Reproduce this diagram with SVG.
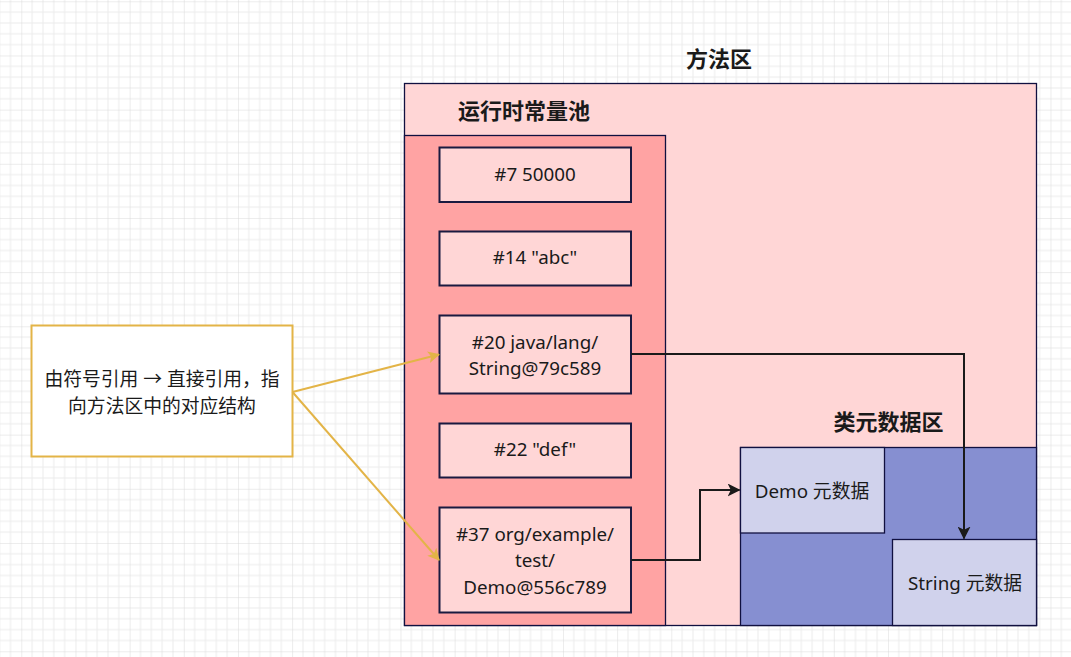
<svg xmlns="http://www.w3.org/2000/svg" width="1071" height="657" viewBox="0 0 1071 657">
<style>
.t{font-family:"Noto Sans","Noto Sans CJK SC",sans-serif;font-size:18.8px;fill:#1a1a1a;text-anchor:middle;dominant-baseline:central}
.h{font-family:"Noto Sans CJK SC","Noto Sans",sans-serif;font-size:22px;font-weight:bold;fill:#1a1a1a;text-anchor:middle;dominant-baseline:central}
.entry{fill:#ffd6d6;stroke:#1a1a40;stroke-width:2}
.meta{fill:#d0d2ec;stroke:#101040;stroke-width:1.3}
.y{stroke:#e3b447;stroke-width:2;fill:none}
.k{stroke:#1a1a1a;stroke-width:2;fill:none}
</style>
<defs>
<pattern id="grid" x="21.3" y="1.3" width="54.167" height="54.167" patternUnits="userSpaceOnUse">
<path d="M10.83 0V54.167M21.67 0V54.167M32.5 0V54.167M43.33 0V54.167M0 10.83H54.167M0 21.67H54.167M0 32.5H54.167M0 43.33H54.167" stroke="#ececec" stroke-width="1" fill="none"/>
<path d="M0 0V54.167M0 0H54.167" stroke="#d9d9d9" stroke-width="1" fill="none"/>
</pattern>
<marker id="ay" viewBox="0 0 12 12" refX="11" refY="6" markerWidth="12" markerHeight="12" markerUnits="userSpaceOnUse" orient="auto">
<path d="M0 0L12 6L0 12L3 6Z" fill="#e3b447"/>
</marker>
<marker id="ak" viewBox="0 0 12 12" refX="11" refY="6" markerWidth="13" markerHeight="13" markerUnits="userSpaceOnUse" orient="auto">
<path d="M0 0L12 6L0 12L3 6Z" fill="#1a1a1a"/>
</marker>
</defs>
<rect width="1071" height="657" fill="#ffffff"/>
<rect width="1071" height="657" fill="url(#grid)"/>

<g id="method-area">
<rect x="404.5" y="83.5" width="632" height="542" fill="#ffd6d6" stroke="#101040" stroke-width="1.3"/>
<text class="h" x="719" y="57">方法区</text>
</g>

<g id="constant-pool">
<rect x="404.5" y="135.5" width="261" height="490" fill="#ffa3a3" stroke="#101040" stroke-width="1.3"/>
<text class="h" x="524" y="109">运行时常量池</text>
</g>

<g id="entry-7">
<rect class="entry" x="439.5" y="147.5" width="191.5" height="54.5"/>
<text class="t" x="535" y="173.5">#7 50000</text>
</g>
<g id="entry-14">
<rect class="entry" x="439.5" y="231.5" width="191.5" height="54"/>
<text class="t" x="535" y="257">#14 "abc"</text>
</g>
<g id="entry-20">
<rect class="entry" x="439.5" y="315.5" width="191.5" height="78"/>
<text class="t" x="535" y="341.5">#20 java/lang/</text>
<text class="t" x="535" y="368">String@79c589</text>
</g>
<g id="entry-22">
<rect class="entry" x="439.5" y="423.5" width="191.5" height="54"/>
<text class="t" x="535" y="449">#22 "def"</text>
</g>
<g id="entry-37">
<rect class="entry" x="439.5" y="507.5" width="191.5" height="105"/>
<text class="t" x="535" y="533.5">#37 org/example/</text>
<text class="t" x="535" y="560">test/</text>
<text class="t" x="535" y="586.5">Demo@556c789</text>
</g>

<g id="class-metadata">
<rect x="740.5" y="447.5" width="296" height="178" fill="#868fd1" stroke="#101040" stroke-width="1.3"/>
<text class="h" x="888.5" y="420">类元数据区</text>
</g>
<g id="demo-meta">
<rect class="meta" x="740.5" y="447.5" width="144" height="85.5"/>
<text class="t" x="812" y="490.5">Demo 元数据</text>
</g>
<g id="string-meta">
<rect class="meta" x="892.5" y="539.5" width="144" height="86"/>
<text class="t" x="965" y="582.5">String 元数据</text>
</g>

<g id="note">
<rect x="31.5" y="325.5" width="261" height="131" fill="#ffffff" stroke="#e3b447" stroke-width="2"/>
<text class="t" x="162" y="379">由符号引用 → 直接引用，指</text>
<text class="t" x="162" y="405.5">向方法区中的对应结构</text>
</g>

<g id="connectors">
<path class="y" d="M292.5 392L439 354.5" marker-end="url(#ay)"/>
<path class="y" d="M292.5 392L439 560" marker-end="url(#ay)"/>
<path class="k" d="M631 354H964V538.5" marker-end="url(#ak)"/>
<path class="k" d="M631 560H700V490H739.5" marker-end="url(#ak)"/>
</g>
</svg>
